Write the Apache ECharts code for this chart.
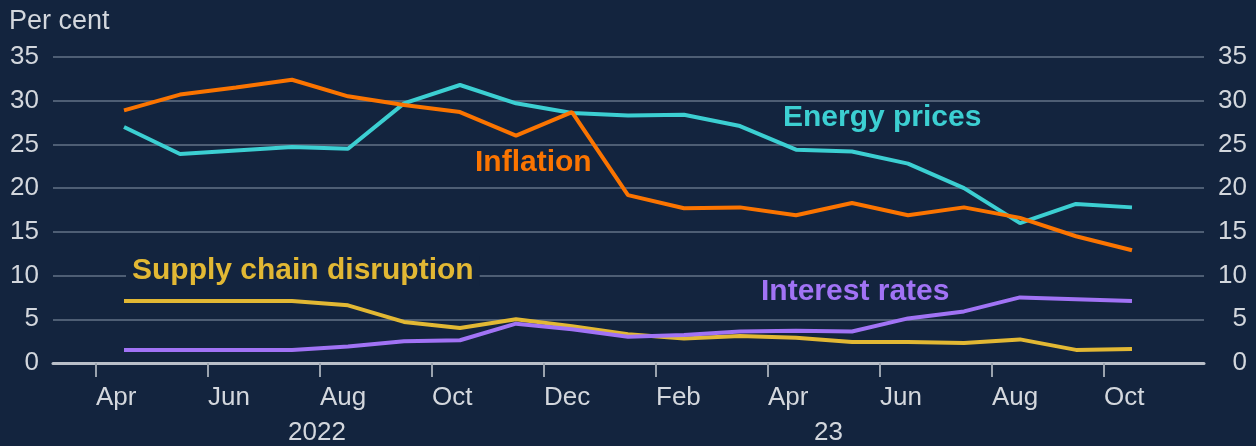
<!DOCTYPE html>
<html>
<head>
<meta charset="utf-8">
<script src="https://cdn.jsdelivr.net/npm/echarts@6/dist/echarts.min.js"></script>
<style>
  html, body { margin: 0; padding: 0; background: #13243e; }
  #chart { width: 1256px; height: 446px; }
</style>
</head>
<body>
<div id="chart"></div>
<script>
// months from Apr 2022 to Oct 2023, plotted at mid-month
var months = ['Apr 22','May 22','Jun 22','Jul 22','Aug 22','Sep 22','Oct 22','Nov 22','Dec 22',
  'Jan 23','Feb 23','Mar 23','Apr 23','May 23','Jun 23','Jul 23','Aug 23','Sep 23','Oct 23'];
var inflation = [28.9, 30.7, 31.5, 32.4, 30.5, 29.5, 28.7, 26.0, 28.7, 19.2, 17.7, 17.8, 16.9, 18.3, 16.9, 17.8, 16.6, 14.5, 12.9];
var energy = [27.0, 23.9, 24.3, 24.7, 24.5, 29.7, 31.8, 29.7, 28.6, 28.3, 28.4, 27.1, 24.4, 24.2, 22.8, 20.0, 16.0, 18.2, 17.8];
var supply = [7.1, 7.1, 7.1, 7.1, 6.6, 4.7, 4.0, 5.0, 4.2, 3.3, 2.8, 3.1, 2.9, 2.4, 2.4, 2.3, 2.7, 1.5, 1.6];
var interest = [1.5, 1.5, 1.5, 1.5, 1.9, 2.5, 2.6, 4.5, 3.85, 3.0, 3.2, 3.6, 3.7, 3.6, 5.1, 5.9, 7.5, 7.3, 7.1];
var tickPos = [0, 2, 4, 6, 8, 10, 12, 14, 16, 18];
var tickLabels = ['Apr', 'Jun', 'Aug', 'Oct', 'Dec', 'Feb', 'Apr', 'Jun', 'Aug', 'Oct'];

var bg = '#13243e';
var textCol = '#d3d7dd';
var font = "'Liberation Sans', Arial, sans-serif";

function pts(arr) {
  return arr.map(function (v, i) { return [i + 0.5, v]; });
}

function line(name, arr, color) {
  return {
    name: name,
    type: 'line',
    data: pts(arr),
    symbol: 'none',
    lineStyle: { color: color, width: 4 },
    z: 3
  };
}

var chart = echarts.init(document.getElementById('chart'));

var yCommon = {
  type: 'value', min: 0, max: 35, interval: 5,
  axisLine: { show: false }, axisTick: { show: false },
  axisLabel: { color: textCol, fontSize: 26, fontFamily: font }
};

function label(text, x, y, color, masked) {
  var style = { text: text, fill: color, font: 'bold 30px ' + font };
  if (masked) {
    style.backgroundColor = bg;
    style.padding = [0, 6];
  }
  return { type: 'text', left: x, top: y, z: 10, style: style };
}

var option = {
  backgroundColor: bg,
  animation: false,
  grid: { left: 53, right: 52, top: 57, bottom: 83 },
  xAxis: {
    type: 'value', min: -0.768, max: 19.786,
    splitLine: { show: false },
    axisLine: { show: true, onZero: false, lineStyle: { color: '#b9bfc8', width: 3 } },
    axisTick: { show: true, customValues: tickPos, length: 14, lineStyle: { color: '#9aa3ae', width: 2 } },
    axisLabel: {
      customValues: tickPos, align: 'left', margin: 22,
      color: textCol, fontSize: 26, fontFamily: font,
      formatter: function (v) { return tickLabels[tickPos.indexOf(Math.round(v))] || ''; }
    }
  },
  yAxis: [
    Object.assign({}, yCommon, {
      position: 'left',
      splitLine: { show: true, lineStyle: { color: '#4e5e74', width: 2 } },
      axisLabel: Object.assign({}, yCommon.axisLabel, { margin: 14 })
    }),
    Object.assign({}, yCommon, {
      position: 'right',
      splitLine: { show: false },
      axisLabel: Object.assign({}, yCommon.axisLabel, { align: 'right', margin: 43 })
    })
  ],
  series: [
    line('Supply chain disruption', supply, '#e2b834'),
    line('Interest rates', interest, '#a173f5'),
    line('Energy prices', energy, '#3ccfd2'),
    line('Inflation', inflation, '#fb7400')
  ],
  graphic: [
    { type: 'text', left: 9, top: 8, style: { text: 'Per cent', fill: textCol, font: '27px ' + font } },
    { type: 'text', left: 288, top: 420, style: { text: '2022', fill: textCol, font: '26px ' + font } },
    { type: 'text', left: 814, top: 420, style: { text: '23', fill: textCol, font: '26px ' + font } },
    label('Inflation', 475, 148, '#fb7400'),
    label('Energy prices', 783, 103, '#3ccfd2'),
    label('Interest rates', 761, 277, '#a173f5'),
    label('Supply chain disruption', 126, 256, '#e2b834', true)
  ]
};

chart.setOption(option);
</script>
</body>
</html>
